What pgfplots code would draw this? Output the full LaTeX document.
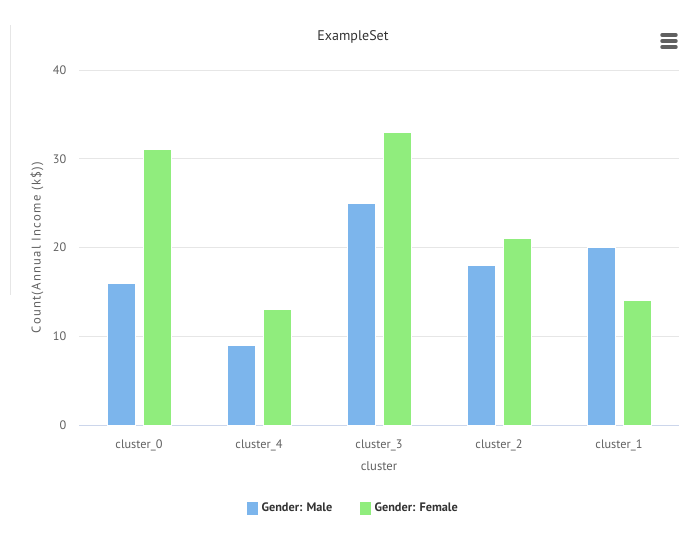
\documentclass[border=0pt]{standalone}
\usepackage{fontspec}
\setmainfont{PT Sans}
\usepackage{pgfplots}
\usepackage{pgfplotstable}
\pgfplotsset{compat=1.18}

\definecolor{male}{HTML}{7CB5EC}
\definecolor{female}{HTML}{90ED7D}
\definecolor{gridc}{HTML}{E6E6E6}
\definecolor{axisc}{HTML}{CCD6EB}
\definecolor{labc}{HTML}{606060}
\definecolor{titc}{HTML}{333333}

% counts per cluster and gender
\pgfplotstableread{
idx male female
0   16   31
1   9    13
2   25   33
3   18   21
4   20   14
}\counts

\begin{document}
\begin{tikzpicture}
\path[use as bounding box] (0,0) rectangle (511.5pt,-413.25pt);
% faint frame edge on the left
\draw[gridc, line width=0.75pt] (7.5pt,-18.75pt) -- (7.5pt,-221.25pt);
\begin{axis}[
  at={(59.25pt,-318.75pt)}, anchor=south west,
  scale only axis, width=450pt, height=266.25pt,
  xmin=-0.5, xmax=4.5, ymin=0, ymax=40,
  xtick=data,
  xticklabels={cluster\_0,cluster\_4,cluster\_3,cluster\_2,cluster\_1},
  ytick={0,10,20,30,40},
  ymajorgrids, grid style={gridc, line width=0.75pt},
  axis x line*=bottom, axis y line*=left,
  y axis line style={draw=none},
  x axis line style={axisc, line width=0.75pt, -},
  tick style={draw=none},
  /pgf/number format/assume math mode=true,
  yticklabel style={font=\fontsize{9.2}{11}\selectfont, text=labc, anchor=east, xshift=-6pt},
  xticklabel style={font=\fontsize{9.2}{11}\selectfont, text=labc, anchor=center, yshift=-15pt},
  xlabel={cluster},
  xlabel style={font=\fontsize{9.5}{11}\selectfont, text=labc, at={(axis description cs:0.5,-0.1155)}, anchor=center},
  ylabel={\addfontfeatures{LetterSpace=10}Count(Annual Income (k\$))},
  ylabel style={font=\fontsize{9.5}{11}\selectfont, text=labc, at={(axis description cs:-0.07,0.5)}, anchor=center, rotate=0},
  legend columns=2,
  legend style={at={(axis description cs:0.457,-0.234)}, anchor=center, draw=none,
    font=\bfseries\fontsize{9.2}{11}\selectfont, text=titc,
    /tikz/every even column/.append style={column sep=18pt}},
  legend image code/.code={\fill[#1] (0pt,-5.25pt) rectangle (9pt,5.25pt);},
]
\addplot[ybar, bar width=21pt, bar shift=-13.5pt, fill=male, draw=white, line width=0.75pt]
  table[x=idx, y=male] {\counts};
\addlegendentry{Gender: Male}
\addplot[ybar, bar width=21pt, bar shift=13.5pt, fill=female, draw=white, line width=0.75pt]
  table[x=idx, y=female] {\counts};
\addlegendentry{Gender: Female}
\end{axis}
% chart title
\node[text=titc, font=\fontsize{10.5}{12}\selectfont] at (264.75pt,-27.75pt) {ExampleSet};
% menu icon
\foreach \yy in {26.25,30.75,35.25}
  \draw[labc, line width=2.6pt, line cap=round] (496.5pt,-\yy pt) -- (507pt,-\yy pt);
\end{tikzpicture}
\end{document}
